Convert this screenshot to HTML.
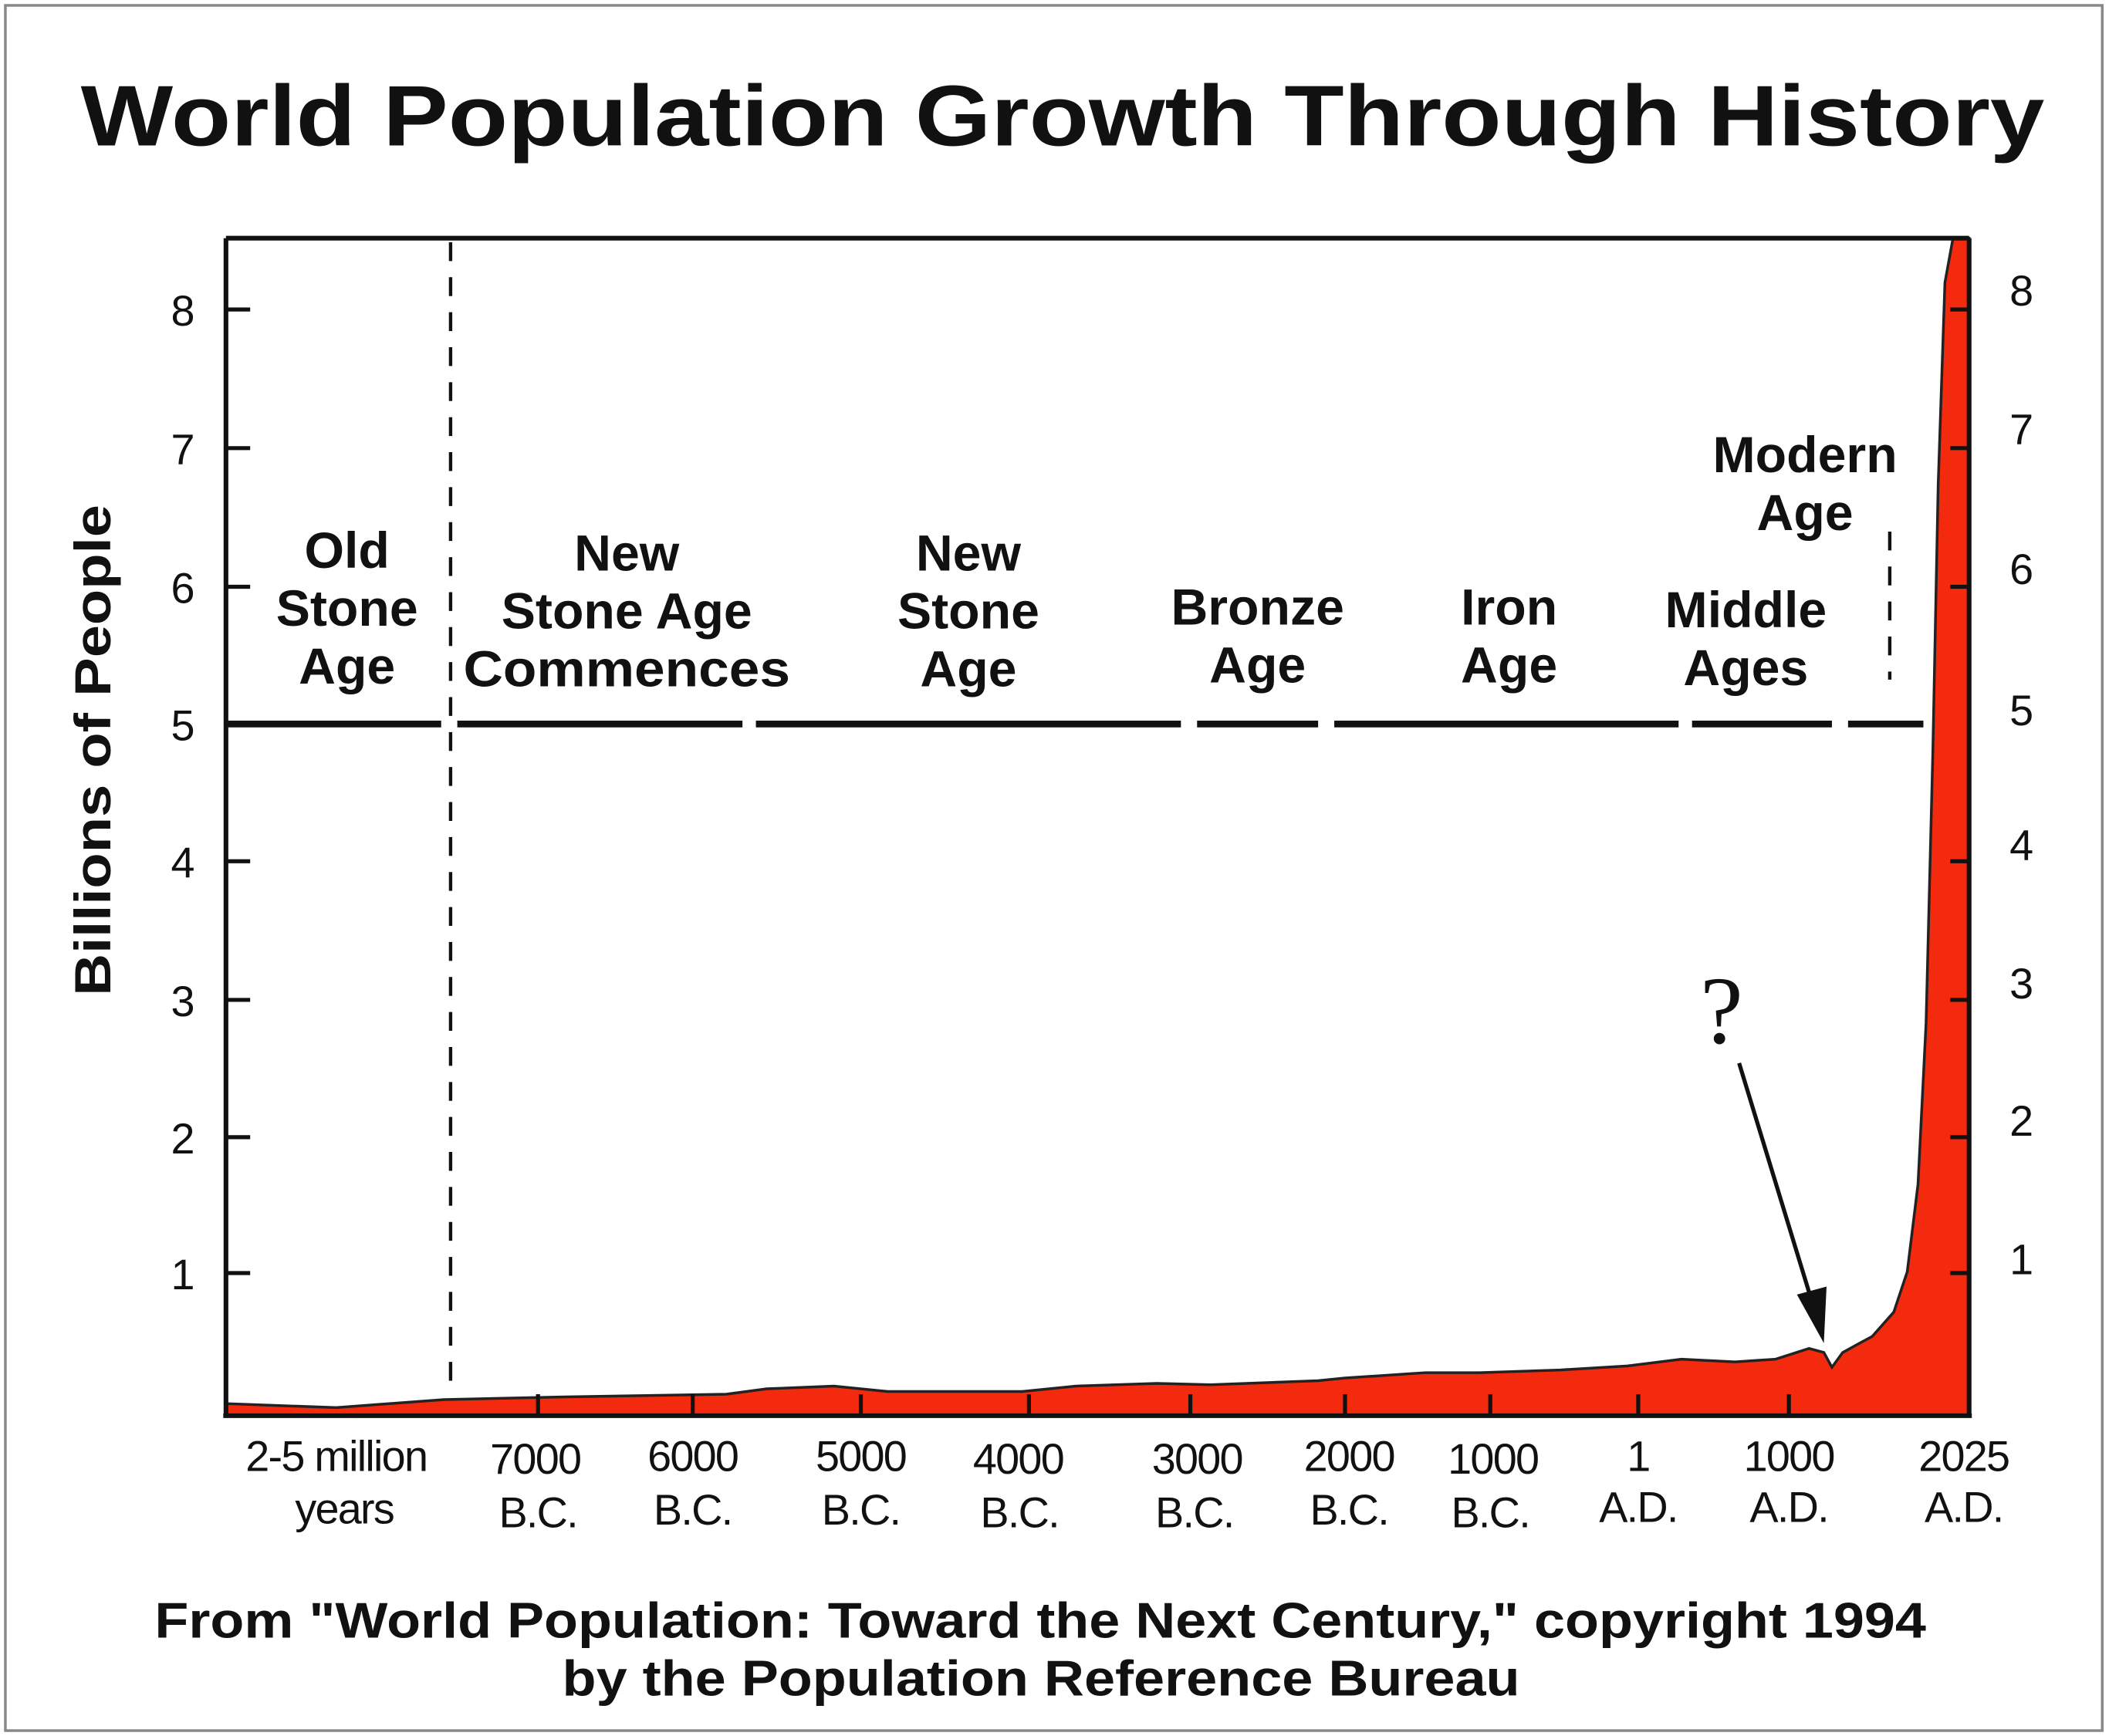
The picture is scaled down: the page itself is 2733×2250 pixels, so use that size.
<!DOCTYPE html>
<html><head><meta charset="utf-8"><style>
html,body{margin:0;padding:0;background:#fff}
svg{display:block}
</style></head><body>
<svg width="2733" height="2250" viewBox="0 0 1568 1290" preserveAspectRatio="none" xmlns="http://www.w3.org/2000/svg">
<rect x="0" y="0" width="1568" height="1290" fill="#fff"/>
<rect x="4" y="4" width="1559" height="1282" fill="none" stroke="#888" stroke-width="2"/>
<text x="60" y="108" textLength="1460" lengthAdjust="spacingAndGlyphs" font-family="Liberation Sans, sans-serif" font-weight="bold" font-size="64" fill="#111">World Population Growth Through History</text>

<path d="M168,1043 L250,1046 L330,1040 L420,1038 L540,1036 L570,1032 L620,1030 L660,1034 L760,1034 L800,1030 L860,1028 L900,1029 L980,1026 L1000,1024 L1060,1020 L1100,1020 L1160,1018 L1210,1015 L1250,1010 L1290,1012 L1320,1010 L1345,1002 L1356,1005 L1362,1016 L1370,1005 L1392,993 L1408,975 L1418,945 L1426,880 L1432,760 L1437,560 L1441,360 L1446,210 L1452,177 L1464,177 L1464,1052 L168,1052 Z" fill="#f42a0f" stroke="#222" stroke-width="2"/>

<path d="M168,177 L1464,177 M168,177 L168,1053 M166,1052 L1466,1052 M1464,177 L1464,1052" stroke="#111" stroke-width="3.5" fill="none"/>

<g stroke="#111" stroke-width="3">
<line x1="168" y1="230" x2="186" y2="230"/><line x1="168" y1="333" x2="186" y2="333"/><line x1="168" y1="436" x2="186" y2="436"/><line x1="168" y1="640" x2="186" y2="640"/><line x1="168" y1="743" x2="186" y2="743"/><line x1="168" y1="845" x2="186" y2="845"/><line x1="168" y1="946" x2="186" y2="946"/>
<line x1="1450" y1="230" x2="1464" y2="230"/><line x1="1450" y1="333" x2="1464" y2="333"/><line x1="1450" y1="436" x2="1464" y2="436"/><line x1="1450" y1="640" x2="1464" y2="640"/><line x1="1450" y1="743" x2="1464" y2="743"/><line x1="1450" y1="845" x2="1464" y2="845"/><line x1="1450" y1="946" x2="1464" y2="946"/>
<line x1="400" y1="1036" x2="400" y2="1052"/><line x1="515" y1="1036" x2="515" y2="1052"/><line x1="640" y1="1036" x2="640" y2="1052"/><line x1="765" y1="1036" x2="765" y2="1052"/><line x1="885" y1="1036" x2="885" y2="1052"/><line x1="1000" y1="1036" x2="1000" y2="1052"/><line x1="1108" y1="1036" x2="1108" y2="1052"/><line x1="1218" y1="1036" x2="1218" y2="1052"/><line x1="1330" y1="1036" x2="1330" y2="1052"/>
</g>

<g font-family="Liberation Sans, sans-serif" font-size="32" fill="#111" text-anchor="middle">
<text x="136" y="242">8</text><text x="136" y="345">7</text><text x="136" y="448">6</text><text x="136" y="550">5</text><text x="136" y="652">4</text><text x="136" y="755">3</text><text x="136" y="857">2</text><text x="136" y="958">1</text>
<text x="1503" y="227">8</text><text x="1503" y="330">7</text><text x="1503" y="434">6</text><text x="1503" y="539">5</text><text x="1503" y="639">4</text><text x="1503" y="742">3</text><text x="1503" y="844">2</text><text x="1503" y="947">1</text>
</g>

<text transform="translate(82,740) rotate(-90)" textLength="365" lengthAdjust="spacingAndGlyphs" font-family="Liberation Sans, sans-serif" font-weight="bold" font-size="38" fill="#111">Billions of People</text>

<line x1="335" y1="180" x2="335" y2="1035" stroke="#111" stroke-width="2.5" stroke-dasharray="14,12"/>
<line x1="1405" y1="395" x2="1405" y2="505" stroke="#111" stroke-width="2.5" stroke-dasharray="14,12"/>

<g stroke="#111" stroke-width="5">
<line x1="168" y1="538" x2="328" y2="538"/><line x1="340" y1="538" x2="552" y2="538"/><line x1="562" y1="538" x2="878" y2="538"/><line x1="890" y1="538" x2="980" y2="538"/><line x1="992" y1="538" x2="1248" y2="538"/><line x1="1258" y1="538" x2="1362" y2="538"/><line x1="1374" y1="538" x2="1430" y2="538"/>
</g>

<g font-family="Liberation Sans, sans-serif" font-weight="bold" font-size="38" fill="#111" text-anchor="middle">
<text x="258" y="422">Old</text><text x="258" y="465">Stone</text><text x="258" y="508">Age</text>
<text x="466" y="424">New</text><text x="466" y="467">Stone Age</text><text x="466" y="510" textLength="243" lengthAdjust="spacingAndGlyphs">Commences</text>
<text x="720" y="424">New</text><text x="720" y="467">Stone</text><text x="720" y="510">Age</text>
<text x="935" y="464">Bronze</text><text x="935" y="507">Age</text>
<text x="1122" y="464">Iron</text><text x="1122" y="507">Age</text>
<text x="1298" y="466">Middle</text><text x="1298" y="509">Ages</text>
<text x="1342" y="351">Modern</text><text x="1342" y="394">Age</text>
</g>

<g font-family="Liberation Sans, sans-serif" font-size="32" fill="#111" text-anchor="middle" letter-spacing="-1">
<text x="250" y="1093">2-5 million</text><text x="256" y="1132">years</text>
<text x="398" y="1095">7000</text><text x="400" y="1135">B.C.</text>
<text x="515" y="1093">6000</text><text x="515" y="1133">B.C.</text>
<text x="640" y="1093">5000</text><text x="640" y="1133">B.C.</text>
<text x="757" y="1095">4000</text><text x="758" y="1135">B.C.</text>
<text x="890" y="1095">3000</text><text x="888" y="1135">B.C.</text>
<text x="1003" y="1093">2000</text><text x="1003" y="1133">B.C.</text>
<text x="1110" y="1095">1000</text><text x="1108" y="1135">B.C.</text>
<text x="1218" y="1093">1</text><text x="1218" y="1131">A.D.</text>
<text x="1330" y="1093">1000</text><text x="1330" y="1131">A.D.</text>
<text x="1460" y="1093">2025</text><text x="1460" y="1131">A.D.</text>
</g>

<text x="1280" y="775" text-anchor="middle" font-family="Liberation Serif, serif" font-size="72" fill="#111">?</text>
<line x1="1293" y1="790" x2="1348" y2="970" stroke="#111" stroke-width="3"/>
<polygon points="1356,998 1336,962 1358,956" fill="#111"/>

<g font-family="Liberation Sans, sans-serif" font-weight="bold" font-size="37" fill="#111">
<text x="115" y="1217" textLength="1317" lengthAdjust="spacingAndGlyphs">From "World Population: Toward the Next Century," copyright 1994</text>
<text x="418" y="1260" textLength="712" lengthAdjust="spacingAndGlyphs">by the Population Reference Bureau</text>
</g>
</svg>
</body></html>
